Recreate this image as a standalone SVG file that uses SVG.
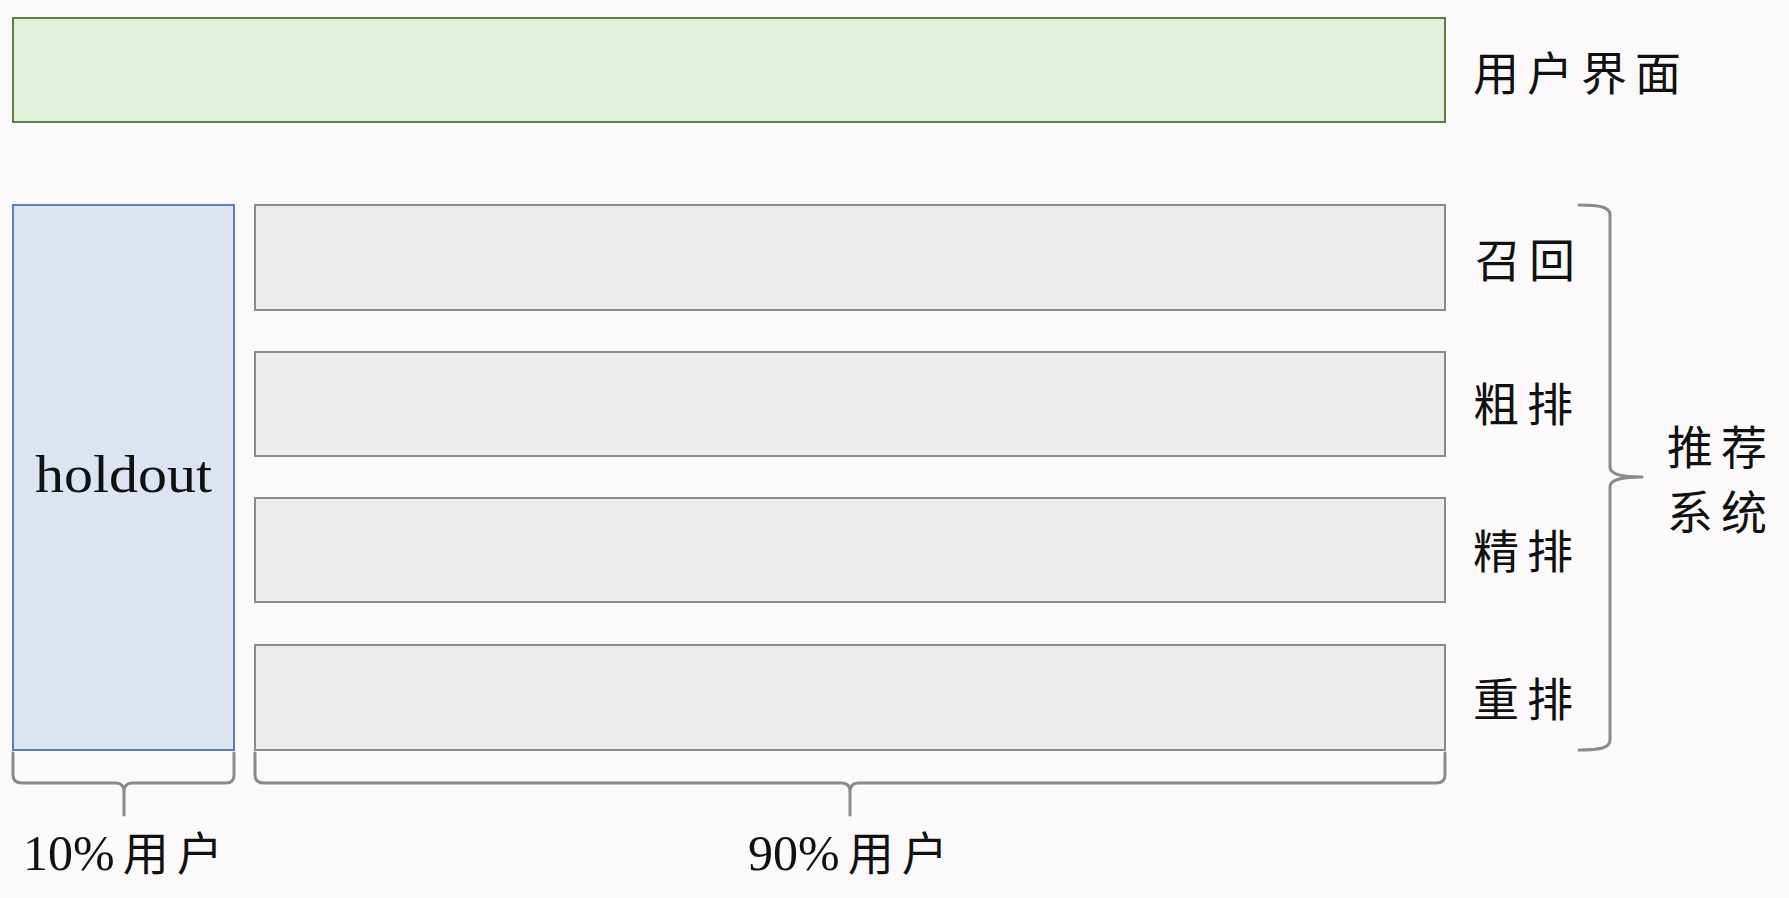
<svg xmlns="http://www.w3.org/2000/svg" width="1789" height="898" viewBox="0 0 1789 898">
<style>
.cjk{font-family:"Noto Sans CJK SC","Noto Sans CJK JP",sans-serif;font-size:46px;fill:#111;letter-spacing:8px}
.lat{font-family:"Liberation Serif",serif;fill:#111}
.stage{fill:#EDECEC;stroke:#8A8A8A;stroke-width:2}
.brace{fill:none;stroke:#8A8A8A;stroke-width:3;stroke-linecap:round;stroke-linejoin:round}
</style>
<rect width="1789" height="898" fill="#FBF9FA"/>
<g id="ui">
<rect x="13" y="18" width="1432" height="104" fill="#E3EEDC" stroke="#5A7F3F" stroke-width="2"/>
<text class="cjk" x="1473" y="90">用户界面</text>
</g>
<g id="holdout">
<rect x="13" y="205" width="221" height="545" fill="#DCE4F1" stroke="#5A7EC0" stroke-width="2"/>
<text class="lat" x="35" y="492" font-size="52" textLength="177" lengthAdjust="spacingAndGlyphs">holdout</text>
</g>
<g id="recall">
<rect class="stage" x="255" y="205" width="1190" height="105"/>
<text class="cjk" x="1475" y="277">召回</text>
</g>
<g id="prerank">
<rect class="stage" x="255" y="352" width="1190" height="104"/>
<text class="cjk" x="1473" y="421">粗排</text>
</g>
<g id="rank">
<rect class="stage" x="255" y="498" width="1190" height="104"/>
<text class="cjk" x="1473" y="568">精排</text>
</g>
<g id="rerank">
<rect class="stage" x="255" y="645" width="1190" height="105"/>
<text class="cjk" x="1473" y="716">重排</text>
</g>
<g id="recsys-label">
<text class="cjk" x="1667" y="464">推荐</text>
<text class="cjk" x="1667" y="529">系统</text>
</g>
<g id="connectors">
<path class="brace" d="M1579,205 C1600,205 1610,207 1610,215 L1610,467 C1610,474 1620,477 1642,477 C1620,477 1610,480 1610,487 L1610,740 C1610,748 1600,750 1579,750"/>
<path class="brace" d="M13,753 L13,775 Q13,783 22,783 L116,783 Q124,783 124,792 L124,815 M124,792 Q124,783 132,783 L226,783 Q234,783 234,775 L234,753"/>
<path class="brace" d="M255,753 L255,775 Q255,783 264,783 L842,783 Q850,783 850,792 L850,815 M850,792 Q850,783 858,783 L1436,783 Q1445,783 1445,775 L1445,753"/>
</g>
<g id="pct10">
<text x="23" y="870"><tspan class="lat" font-size="50">10%</tspan><tspan class="cjk" dx="8">用户</tspan></text>
</g>
<g id="pct90">
<text x="748" y="870"><tspan class="lat" font-size="50">90%</tspan><tspan class="cjk" dx="8">用户</tspan></text>
</g>
</svg>
